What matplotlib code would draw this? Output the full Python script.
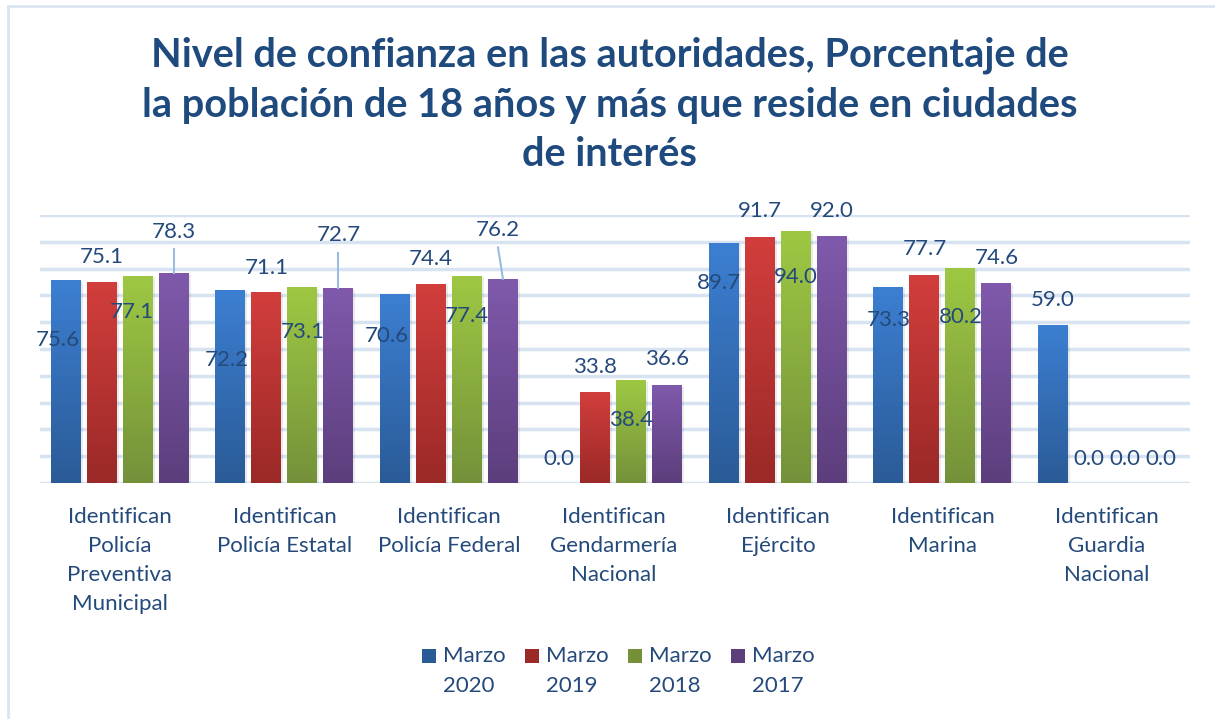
import numpy as np
import matplotlib.pyplot as plt
from matplotlib.colors import LinearSegmentedColormap
from matplotlib.patches import Rectangle
from matplotlib.lines import Line2D

# data
categories = ['Identifican\nPolicía\nPreventiva\nMunicipal', 'Identifican\nPolicía Estatal',
              'Identifican\nPolicía Federal', 'Identifican\nGendarmería\nNacional',
              'Identifican\nEjército', 'Identifican\nMarina', 'Identifican\nGuardia\nNacional']
series = ['Marzo\n2020', 'Marzo\n2019', 'Marzo\n2018', 'Marzo\n2017']
marzo_2020 = [75.6, 72.2, 70.6, 0.0, 89.7, 73.3, 59.0]
marzo_2019 = [75.1, 71.1, 74.4, 33.8, 91.7, 77.7, 0.0]
marzo_2018 = [77.1, 73.1, 77.4, 38.4, 94.0, 80.2, 0.0]
marzo_2017 = [78.3, 72.7, 76.2, 36.6, 92.0, 74.6, 0.0]
values = [marzo_2020, marzo_2019, marzo_2018, marzo_2017]

# colours (top, bottom) of the gradient fill
grads = [('#3c7fd2', '#2b5b97'), ('#d23e3c', '#9a2927'),
         ('#9ec843', '#74913a'), ('#8059ac', '#5c3e7c')]

# label placement (layout only): vertical offset from bar top, horizontal shift
lab_dy = [[-22.2, -26.3, -15.7, 9.0, -15.1, -12.5, 9.3],
          [9.2, 9.1, 9.2, 9.5, 9.8, 9.6, 9.0],
          [-13.3, -16.8, -15.1, -14.9, -17.1, -18.3, 9.0],
          [15.4, 19.8, 18.2, 9.7, 9.5, 9.4, 9.0]]
lab_dx = [[-0.05, -0.02, -0.05, 0, -0.03, 0, 0],
          [0, 0, 0, 0, 0, 0, 0],
          [-0.035, 0, 0, 0, 0, 0, 0],
          [0, 0, -0.03, 0, 0, 0, 0]]
leader = [(3, 0), (3, 1), (3, 2)]

txt = '#24497b'
plt.rcParams['font.family'] = ['Lato', 'DejaVu Sans']

fig = plt.figure(figsize=(12.15, 7.19), dpi=100)
ax = fig.add_axes([0.0329, 0.3282, 0.9465, 0.3727])

x = np.arange(len(categories))
step = 0.219
width = 0.182
for i, vals in enumerate(values):
    top, bot = grads[i]
    cmap = LinearSegmentedColormap.from_list('g%d' % i, [bot, top])
    pos = x + (i - 1.5) * step
    bars = ax.bar(pos, vals, width, color=top, zorder=3)
    for b, v in zip(bars, vals):
        if v <= 0:
            continue
        # soft shadow
        ax.add_patch(Rectangle((b.get_x() + 0.012, 0), width, v - 0.6,
                               color='#000000', alpha=0.08, zorder=2, lw=0))
        grad = np.linspace(0, 1, 256).reshape(-1, 1)
        im = ax.imshow(grad, cmap=cmap, origin='lower', aspect='auto',
                       extent=(b.get_x(), b.get_x() + width, 0, v), zorder=3.5)
        im.set_clip_path(b)
    for j, v in enumerate(vals):
        ax.text(pos[j] + lab_dx[i][j], v + lab_dy[i][j], '%.1f' % v,
                ha='center', va='center', fontsize=16, color=txt, zorder=5)

for i, j in leader:
    px = x[j] + (i - 1.5) * step
    v = values[i][j]
    tx = px + lab_dx[i][j]
    ax.plot([tx, px], [v + lab_dy[i][j] - 6.5, v], color='#9dbbe0', lw=1.5, zorder=4)

for g in range(0, 101, 10):
    ax.axhline(g, color='#d7e3f1', lw=2.5, zorder=1)

ax.set_ylim(0, 100)
ax.set_xlim(-0.486, 6.505)
ax.set_xticks(x)
ax.set_xticklabels(categories, fontsize=16, color=txt, linespacing=1.57)
ax.tick_params(axis='x', length=0, pad=17)
ax.set_yticks([])
for s in ax.spines.values():
    s.set_visible(False)
ax.patch.set_alpha(0)

title_lines = ['Nivel de confianza en las autoridades, Porcentaje de',
               'la población de 18 años y más que reside en ciudades',
               'de interés']
for k, t in enumerate(title_lines):
    fig.text(0.502, 1 - (55 + 50 * k) / 719, t, ha='center', va='center',
             fontsize=28.6, fontweight='bold', color='#1f4a7d')

# legend: square beside the first line, text left aligned
W, H = 1215.0, 719.0
for k, name in enumerate(series):
    x0 = 422 + 103 * k
    top, bot = grads[k]
    fig.add_artist(Rectangle((x0 / W, 1 - 663 / H), 14 / W, 14 / H,
                             transform=fig.transFigure, facecolor=bot,
                             edgecolor='none'))
    first, second = name.split('\n')
    fig.text((x0 + 21) / W, 1 - 656 / H, first, ha='left', va='center',
             fontsize=16, color=txt)
    fig.text((x0 + 21) / W, 1 - 686 / H, second, ha='left', va='center',
             fontsize=16, color=txt)

# chart area border (top and left only)
fig.add_artist(Line2D([8 / W, 1], [1 - 6 / H, 1 - 6 / H], transform=fig.transFigure,
                      color='#dbe5f1', lw=2))
fig.add_artist(Line2D([8 / W, 8 / W], [0, 1 - 6 / H], transform=fig.transFigure,
                      color='#dbe5f1', lw=2))

fig.savefig('out.png', dpi=100)
